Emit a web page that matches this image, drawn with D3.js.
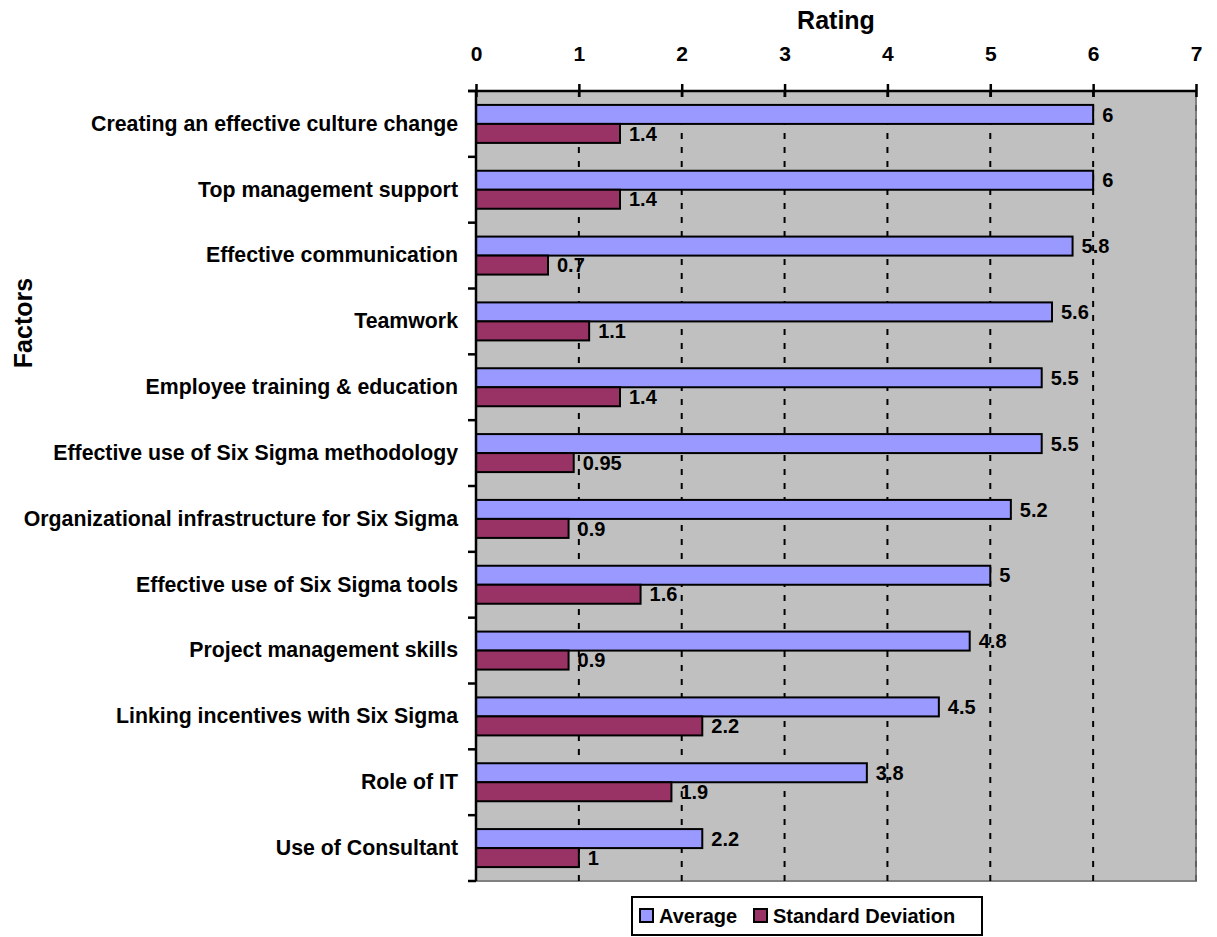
<!DOCTYPE html>
<html>
<head>
<meta charset="utf-8">
<script src="https://cdn.jsdelivr.net/npm/d3@7"></script>
<style>
  body { margin: 0; background: #fff; }
  text { font-family: "Liberation Sans", Arial, sans-serif; font-weight: bold; fill: #000; }
</style>
</head>
<body>
<div id="chart-container"><svg></svg></div>
<script>
const factors = [
  "Creating an effective culture change",
  "Top management support",
  "Effective communication",
  "Teamwork",
  "Employee training & education",
  "Effective use of Six Sigma methodology",
  "Organizational infrastructure for Six Sigma",
  "Effective use of Six Sigma tools",
  "Project management skills",
  "Linking incentives with Six Sigma",
  "Role of IT",
  "Use of Consultant"
];
const average = [6, 6, 5.8, 5.6, 5.5, 5.5, 5.2, 5, 4.8, 4.5, 3.8, 2.2];
const stdDev = [1.4, 1.4, 0.7, 1.1, 1.4, 0.95, 0.9, 1.6, 0.9, 2.2, 1.9, 1];
const seriesNames = ["Average", "Standard Deviation"];
const ratingTicks = [0, 1, 2, 3, 4, 5, 6, 7];

const chartSize = {width: 1217, height: 937};
const margin = {left: 476, right: 21, top: 91, bottom: 56};
const width = chartSize.width - margin.left - margin.right;
const height = chartSize.height - margin.top - margin.bottom;
const colors = ["#9999FF", "#993366"];

const svg = d3.select("#chart-container svg")
  .attr("width", chartSize.width)
  .attr("height", chartSize.height);

const g = svg.append("g")
  .attr("transform", `translate(${margin.left},${margin.top})`);

const x = d3.scaleLinear().domain([0, 7]).range([0, width]);
const y = d3.scaleBand().domain(factors).range([0, height]);
const step = y.step();
const groupH = 38;
const ySub = d3.scaleBand().domain(seriesNames)
  .range([(step - groupH) / 2, (step + groupH) / 2]);

// plot background
g.append("rect")
  .attr("width", width).attr("height", height)
  .attr("fill", "#C0C0C0");

// gray right and bottom border
g.append("path")
  .attr("d", `M${width},0V${height}H0`)
  .attr("fill", "none").attr("stroke", "#808080").attr("stroke-width", 2);

// dashed gridlines
g.selectAll(".grid")
  .data(ratingTicks.slice(1))
  .join("line")
  .attr("class", "grid")
  .attr("x1", d => x(d)).attr("x2", d => x(d))
  .attr("y1", 0).attr("y2", height)
  .attr("stroke", d => d === 7 ? "#404040" : "#000")
  .attr("stroke-width", d => d === 7 ? 1 : 2)
  .attr("stroke-dasharray", "6,8");

const rows = factors.map((f, i) => ({f, avg: average[i], sd: stdDev[i]}));

const row = g.selectAll(".row")
  .data(rows)
  .join("g")
  .attr("class", "row")
  .attr("transform", d => `translate(0,${y(d.f)})`);

row.append("rect")
  .attr("x", 0).attr("y", ySub("Average"))
  .attr("width", d => x(d.avg)).attr("height", ySub.bandwidth())
  .attr("fill", colors[0]).attr("stroke", "#000").attr("stroke-width", 2);

row.append("rect")
  .attr("x", 0).attr("y", ySub("Standard Deviation"))
  .attr("width", d => x(d.sd)).attr("height", ySub.bandwidth())
  .attr("fill", colors[1]).attr("stroke", "#000").attr("stroke-width", 2);

row.append("text")
  .attr("x", d => x(d.avg) + 9)
  .attr("y", ySub("Average") + ySub.bandwidth() / 2)
  .attr("dy", "0.36em")
  .style("font-size", "20px")
  .text(d => d.avg);

row.append("text")
  .attr("x", d => x(d.sd) + 9)
  .attr("y", ySub("Standard Deviation") + ySub.bandwidth() / 2)
  .attr("dy", "0.36em")
  .style("font-size", "20px")
  .text(d => d.sd);

// top axis
const xAxis = d3.axisTop(x).tickValues(ratingTicks).tickFormat(d3.format("d"))
  .tickSize(7).tickPadding(23);
const xg = g.append("g").attr("class", "x-axis").call(xAxis);
xg.select(".domain").attr("stroke", "#000").attr("stroke-width", 2.5)
  .attr("d", `M-8,0H${width}`);
xg.selectAll(".tick line").attr("stroke", "#000").attr("stroke-width", 2.5)
  .attr("y1", 6);
xg.selectAll(".tick text")
  .style("font-size", "21px").style("font-family", "Liberation Sans, Arial, sans-serif")
  .style("font-weight", "bold");

// left axis with ticks at category boundaries
const yAxis = d3.axisLeft(y).tickSize(0).tickPadding(18);
const yg = g.append("g").attr("class", "y-axis").call(yAxis);
yg.select(".domain").remove();
yg.selectAll(".tick text")
  .style("font-size", "21.3px").style("font-family", "Liberation Sans, Arial, sans-serif")
  .style("font-weight", "bold");

g.append("line")
  .attr("x1", 0).attr("x2", 0).attr("y1", 0).attr("y2", height)
  .attr("stroke", "#000").attr("stroke-width", 2.5);

g.selectAll(".ytick")
  .data(factors.map(f => y(f)).concat([height]))
  .join("line")
  .attr("class", "ytick")
  .attr("x1", -8).attr("x2", 0)
  .attr("y1", d => d).attr("y2", d => d)
  .attr("stroke", "#000").attr("stroke-width", 2.5);

// axis titles
svg.append("text")
  .attr("x", margin.left + width / 2).attr("y", 20)
  .attr("dy", "0.36em").attr("text-anchor", "middle")
  .style("font-size", "25px")
  .text("Rating");

svg.append("text")
  .attr("transform", "translate(23,323) rotate(-90)")
  .attr("dy", "0.36em").attr("text-anchor", "middle")
  .style("font-size", "25px")
  .text("Factors");

// legend
const legend = svg.append("g").attr("transform", "translate(632,897)");
legend.append("rect")
  .attr("width", 350).attr("height", 38)
  .attr("fill", "#fff").attr("stroke", "#000").attr("stroke-width", 2);

const legendX = [8, 122];
seriesNames.forEach((name, i) => {
  legend.append("rect")
    .attr("x", legendX[i]).attr("y", 12)
    .attr("width", 13).attr("height", 13)
    .attr("fill", colors[i]).attr("stroke", "#000").attr("stroke-width", 2);
  legend.append("text")
    .attr("x", legendX[i] + 19).attr("y", 19)
    .attr("dy", "0.36em")
    .style("font-size", "20px")
    .text(name);
});
</script>
</body>
</html>
